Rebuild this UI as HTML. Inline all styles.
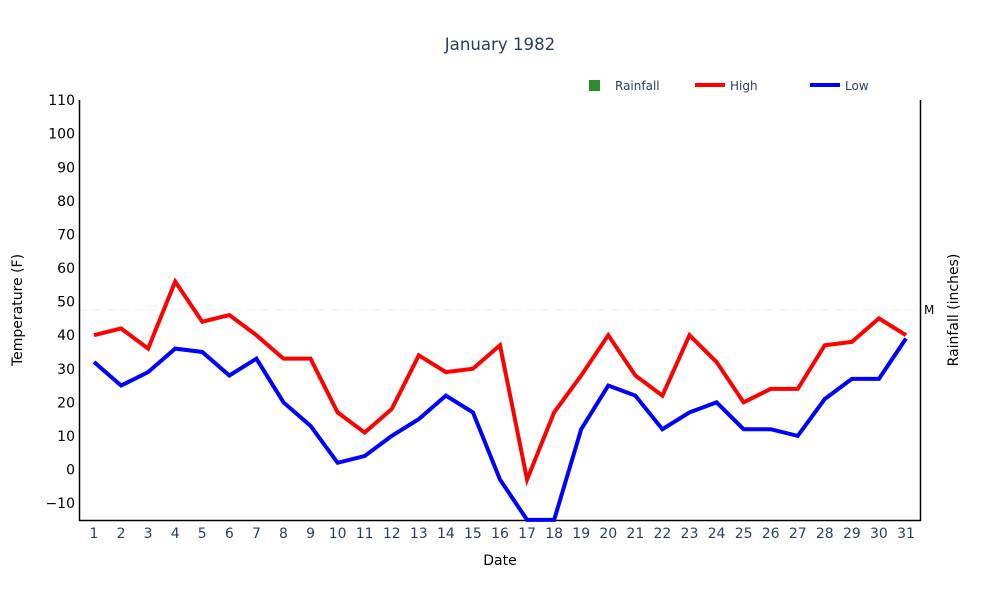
<!DOCTYPE html>
<html><head><meta charset="utf-8"><style>
body{margin:0;background:#fff;}
svg text{font-family:"DejaVu Sans","Liberation Sans",sans-serif;}
</style></head><body>
<svg id="s" width="1000" height="600" xmlns="http://www.w3.org/2000/svg">
<text x="500" y="50" text-anchor="middle" font-size="16.6" fill="#2a3f5f">January 1982</text>
<rect x="589" y="80" width="11" height="11" fill="#2e8b2e"/>
<text x="615" y="90" font-size="12" fill="#2a3f5f">Rainfall</text>
<line x1="695" y1="85" x2="725" y2="85" stroke="#f00" stroke-width="4"/>
<text x="730" y="90" font-size="12" fill="#2a3f5f">High</text>
<line x1="810" y1="85" x2="840" y2="85" stroke="#00f" stroke-width="4"/>
<text x="845" y="90" font-size="12" fill="#2a3f5f">Low</text>
<line x1="79" y1="310" x2="920" y2="310" stroke="#eee" stroke-dasharray="8,6"/>
<line x1="79.5" y1="100" x2="79.5" y2="521" stroke="#000" stroke-width="1.5"/>
<line x1="79" y1="520.5" x2="921" y2="520.5" stroke="#000" stroke-width="1.5"/>
<line x1="920.5" y1="100" x2="920.5" y2="521" stroke="#000" stroke-width="1.5"/>
<text x="924" y="314" font-size="12" fill="#000">M</text>
<text transform="translate(22,310) rotate(-90)" text-anchor="middle" font-size="14" fill="#000">Temperature (F)</text>
<text transform="translate(958,310) rotate(-90)" text-anchor="middle" font-size="14" fill="#000">Rainfall (inches)</text>
<text x="500" y="565" text-anchor="middle" font-size="14" fill="#000">Date</text>
<g id="g"></g>
</svg>
<script>
var H=[40,42,36,56,44,46,40,33,33,17,11,18,34,29,30,37,-3,17,28,40,28,22,40,32,20,24,24,37,38,45,40];
var L=[32,25,29,36,35,28,33,20,13,2,4,10,15,22,17,-3,-15,-15,12,25,22,12,17,20,12,12,10,21,27,27,39];
function X(d){return 94+27.067*(d-1);}function Y(v){return 469.5-3.358*v;}
var s='';
for(var v=-10;v<=110;v+=10){s+='<text x="75" y="'+(Y(v)+5)+'" text-anchor="end" font-size="14" fill="#000">'+(v<0?'\u2212'+(-v):v)+'</text>';}
for(var d=1;d<=31;d++){s+='<text x="'+X(d)+'" y="538" text-anchor="middle" font-size="14" fill="#2a3f5f">'+d+'</text>';}
function P(a,c){return '<polyline fill="none" stroke="'+c+'" stroke-width="4" stroke-linejoin="miter" points="'+a.map(function(v,i){return X(i+1)+','+Y(v)}).join(' ')+'"/>';}
s+=P(H,'#f00')+P(L,'#00f');
document.getElementById('g').innerHTML=s;
</script>
</body></html>
